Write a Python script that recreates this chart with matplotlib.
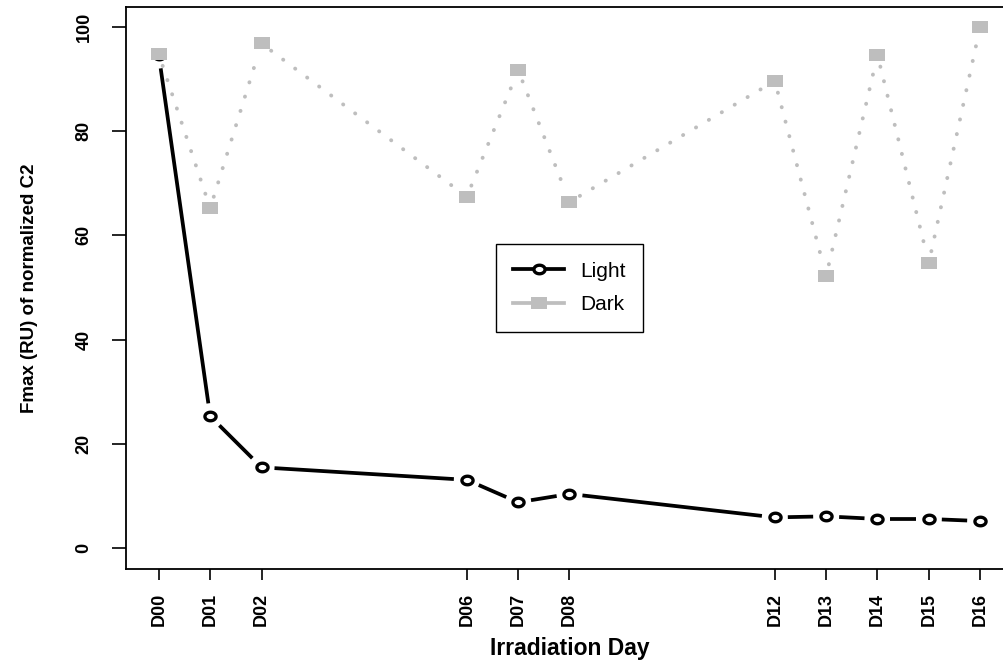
import numpy as np
import matplotlib
matplotlib.use("Agg")
import matplotlib.pyplot as plt
from matplotlib.path import Path
from matplotlib.lines import Line2D

plt.rcParams["font.family"] = ["Liberation Sans", "DejaVu Sans"]

# data
days = [0, 1, 2, 6, 7, 8, 12, 13, 14, 15, 16]
day_labels = ["D00", "D01", "D02", "D06", "D07", "D08",
              "D12", "D13", "D14", "D15", "D16"]
light = [94.5, 25.3, 15.5, 13.1, 8.8, 10.4, 5.9, 6.1, 5.6, 5.6, 5.2]
dark = [94.7, 65.2, 96.8, 67.4, 91.7, 66.4, 89.6, 52.2, 94.6, 54.7, 100.0]
yticks = [0, 20, 40, 60, 80, 100]

GRAY = "#BEBEBE"
ASPECT = 1.3  # the reference is stretched horizontally

# stretched marker shapes
t = np.linspace(0, 2 * np.pi, 60)
ellipse = Path(np.column_stack([0.5 * np.cos(t), 0.5 / ASPECT * np.sin(t)]), closed=True)
h = 0.5 / ASPECT
rect = Path([(-0.5, -h), (0.5, -h), (0.5, h), (-0.5, h), (-0.5, -h)], closed=True)


def gapped_line(ax, x, y, gap_px, **kw):
    """Line with gaps around the points, like R's type='b'."""
    pts = ax.transData.transform(np.column_stack([x, y]))
    inv = ax.transData.inverted()
    for p0, p1 in zip(pts[:-1], pts[1:]):
        d = p1 - p0
        L = np.hypot(*d)
        if L <= 2 * gap_px:
            continue
        u = d / L
        seg = inv.transform(np.array([p0 + u * gap_px, p1 - u * gap_px]))
        ax.plot(seg[:, 0], seg[:, 1], **kw)


fig = plt.figure(figsize=(10.04, 6.62), dpi=100)
ax = fig.add_axes([126 / 1004, 1 - 569 / 662, 887 / 1004, 562 / 662])
ax.set_xlim(-0.64, 16.64)
ax.set_ylim(-4, 103.8)

# dark: dotted gray
gapped_line(ax, days, dark, 12, color=GRAY, lw=2.8,
            linestyle=(0, (0.05, 3.8)), dash_capstyle="round", solid_capstyle="round")
# light: solid black
gapped_line(ax, days, light, 13, color="black", lw=2.7, solid_capstyle="butt")

light_style = dict(marker=ellipse, markersize=8, markerfacecolor="white",
                   markeredgecolor="black", markeredgewidth=2.4)
dark_style = dict(marker=rect, markersize=11, markerfacecolor=GRAY, markeredgewidth=0)
ax.plot(days, light, linestyle="none", **light_style)
ax.plot(days, dark, linestyle="none", **dark_style)

ax.set_xticks(days)
ax.set_xticklabels(day_labels, rotation=90, fontweight="bold", fontsize=13)
ax.set_yticks(yticks)
ax.set_yticklabels([str(v) for v in yticks], rotation=90, va="center",
                   fontweight="bold", fontsize=13)
ax.tick_params(axis="x", length=8, width=1.2, pad=9)
ax.tick_params(axis="y", length=10, width=1.2, pad=14)

for s in ax.spines.values():
    s.set_linewidth(1.3)

ax.set_xlabel("Irradiation Day", fontsize=16.5, fontweight="bold", labelpad=8)
ax.set_ylabel("Fmax (RU) of normalized C2", fontsize=13.5, fontweight="bold", labelpad=27)

handles = [
    Line2D([], [], color="black", lw=2.7, **light_style),
    Line2D([], [], color=GRAY, lw=2.7, **dark_style),
]
leg = ax.legend(handles, ["Light", "Dark"], loc="center", fontsize=15,
                fancybox=False, framealpha=1, edgecolor="black",
                handlelength=2.45, borderpad=0.85, labelspacing=0.7, handletextpad=0.75)
leg.get_frame().set_linewidth(1.0)

fig.savefig("out.png", dpi=100)
